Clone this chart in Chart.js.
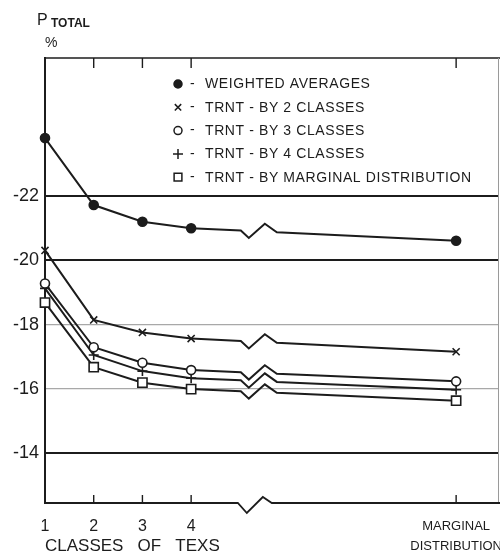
<!DOCTYPE html>
<html>
<head>
<meta charset="utf-8">
<title>P total by classes of texs</title>
<script src="https://cdn.jsdelivr.net/npm/chart.js@4.4.1/dist/chart.umd.min.js"></script>
<style>
  html, body { margin: 0; padding: 0; background: #fff; }
</style>
</head>
<body>
<canvas id="ptotalChart" width="500" height="559"></canvas>
<script>
const INK = '#1c1c1c';
const FONT = '"Liberation Sans", Arial, sans-serif';

// x positions: classes 1-4, then the marginal distribution after the axis break
const classPositions = [1, 2, 3, 4, 9.44];
const classLabels = ['1', '2', '3', '4', ['MARGINAL', 'DISTRIBUTION']];
const yTickValues = [14, 16, 18, 20, 22];

const weightedAverages = [23.8, 21.72, 21.2, 21.0, 20.61];
const trntBy2 = [20.31, 18.15, 17.76, 17.57, 17.16];
const trntBy3 = [19.28, 17.3, 16.82, 16.59, 16.24];
const trntBy4 = [19.13, 17.06, 16.56, 16.34, 15.98];
const trntByMarginal = [18.69, 16.68, 16.2, 16.0, 15.64];

const seriesLabels = [
  'WEIGHTED AVERAGES',
  'TRNT - BY 2 CLASSES',
  'TRNT - BY 3 CLASSES',
  'TRNT - BY 4 CLASSES',
  'TRNT - BY MARGINAL DISTRIBUTION',
];

// where the break in the x axis starts (x units)
const BREAK_X = 5.02;
// break symbol, px offsets from its start point
const LINE_BREAK = [[0, 0], [8, 7], [24, -8], [36, 0]];
const AXIS_BREAK = [[0, 0], [9, 10], [25, -6], [34, 0]];

const markers = [
  { pointStyle: 'circle', radius: 4.5, fill: INK, legendRadius: 4 },
  { pointStyle: 'crossRot', radius: 5, fill: '#fff', legendRadius: 4.5 },
  { pointStyle: 'circle', radius: 4.5, fill: '#fff', legendRadius: 4 },
  { pointStyle: 'cross', radius: 5, fill: '#fff', legendRadius: 5 },
  { pointStyle: 'rect', radius: 6.5, fill: '#fff', legendRadius: 5.5 },
];

const buildDataset = (values, i) => ({
  label: seriesLabels[i],
  data: values.map((v, j) => ({ x: classPositions[j], y: v })),
  borderColor: INK,
  borderWidth: 2,
  tension: 0,
  clip: false,
  pointStyle: markers[i].pointStyle,
  pointRadius: markers[i].radius,
  pointBackgroundColor: markers[i].fill,
  pointBorderColor: INK,
  pointBorderWidth: 1.6,
  // the segment across the break is drawn by brokenLines
  segment: {
    borderColor: c => (c.p0DataIndex === 3 ? 'rgba(0,0,0,0)' : undefined),
  },
});

const drawBroken = (ctx, from, to, bx, shape) => {
  const yAt = x => from.y + ((to.y - from.y) * (x - from.x)) / (to.x - from.x);
  ctx.beginPath();
  ctx.moveTo(from.x, from.y);
  shape.forEach(([dx, dy]) => ctx.lineTo(bx + dx, yAt(bx + dx) + dy));
  ctx.lineTo(to.x, to.y);
  ctx.stroke();
};

const brokenLines = {
  id: 'brokenLines',
  beforeDatasetsDraw(chart) {
    const { ctx } = chart;
    const bx = chart.scales.x.getPixelForValue(BREAK_X);
    ctx.save();
    ctx.lineJoin = 'miter';
    chart.data.datasets.forEach((ds, i) => {
      const pts = chart.getDatasetMeta(i).data;
      ctx.strokeStyle = ds.borderColor;
      ctx.lineWidth = ds.borderWidth;
      drawBroken(ctx, pts[3], pts[4], bx, LINE_BREAK);
    });
    ctx.restore();
  },
};

const frame = {
  id: 'frame',
  afterDraw(chart) {
    const { ctx, chartArea: { left, right, top, bottom } } = chart;
    const xs = chart.scales.x;
    ctx.save();
    ctx.strokeStyle = INK;

    // top and right edges
    ctx.lineWidth = 1.6;
    ctx.beginPath();
    ctx.moveTo(left, top);
    ctx.lineTo(right + 1, top);
    ctx.stroke();
    ctx.strokeStyle = '#9a9a9a';
    ctx.lineWidth = 1;
    ctx.beginPath();
    ctx.moveTo(right - 0.5, top);
    ctx.lineTo(right - 0.5, bottom);
    ctx.stroke();

    // bottom axis with its break
    ctx.strokeStyle = INK;
    ctx.lineWidth = 1.8;
    drawBroken(ctx, { x: left, y: bottom }, { x: right + 1, y: bottom },
      xs.getPixelForValue(BREAK_X) - 3, AXIS_BREAK);

    // inward ticks on top and bottom edges
    ctx.lineWidth = 1.4;
    classPositions.slice(1).forEach(v => {
      const x = xs.getPixelForValue(v);
      ctx.beginPath();
      ctx.moveTo(x, top);
      ctx.lineTo(x, top + 10);
      ctx.moveTo(x, bottom);
      ctx.lineTo(x, bottom - 8);
      ctx.stroke();
    });

    // legend
    const lx = left + 133;
    let ly = top + 26;
    ctx.font = `14px ${FONT}`;
    ctx.textBaseline = 'middle';
    ctx.textAlign = 'left';
    ctx.letterSpacing = '0.6px';
    chart.data.datasets.forEach((ds, i) => {
      ctx.fillStyle = markers[i].fill;
      ctx.strokeStyle = INK;
      ctx.lineWidth = 1.5;
      Chart.helpers.drawPoint(ctx, {
        pointStyle: markers[i].pointStyle,
        radius: markers[i].legendRadius,
        rotation: 0,
        borderWidth: 1.5,
      }, lx, ly);
      ctx.fillStyle = INK;
      ctx.fillText('-', lx + 12, ly);
      ctx.fillText(ds.label, lx + 27, ly + 0.5);
      ly += 23.3;
    });

    // y axis caption
    ctx.letterSpacing = '0px';
    ctx.textBaseline = 'alphabetic';
    ctx.font = `16px ${FONT}`;
    ctx.fillText('P', 37, 25);
    ctx.font = `bold 12px ${FONT}`;
    ctx.fillText('TOTAL', 51, 27);
    ctx.font = `14px ${FONT}`;
    ctx.fillText('%', 45, 47);
    ctx.restore();
  },
};

const ctx = document.getElementById('ptotalChart').getContext('2d');

new Chart(ctx, {
  type: 'line',
  data: {
    datasets: [weightedAverages, trntBy2, trntBy3, trntBy4, trntByMarginal].map(buildDataset),
  },
  options: {
    responsive: false,
    animation: false,
    layout: { autoPadding: false, padding: { top: 58, right: 1, left: 0, bottom: 0 } },
    plugins: {
      legend: { display: false },
      tooltip: { enabled: false },
    },
    scales: {
      x: {
        type: 'linear',
        min: 1,
        max: 10.32,
        afterBuildTicks: s => {
          s.ticks = classPositions.map(v => ({ value: v }));
        },
        afterFit: s => {
          s.height = 56;
          s.paddingLeft = 0;
          s.paddingRight = 0;
        },
        border: { display: false },
        grid: { display: false, drawTicks: false },
        ticks: {
          autoSkip: false,
          maxRotation: 0,
          padding: 14,
          color: INK,
          font: c => ({
            family: FONT,
            size: c.index === 4 ? 13 : 16,
            lineHeight: c.index === 4 ? 1.5 : 1.2,
          }),
          callback: (v, i) => classLabels[i],
        },
        title: {
          display: true,
          text: 'CLASSES   OF   TEXS',
          align: 'start',
          color: INK,
          font: { family: FONT, size: 17 },
          padding: { top: 0, bottom: 2 },
        },
      },
      y: {
        type: 'linear',
        min: 12.46,
        max: 26.29,
        afterBuildTicks: s => {
          s.ticks = yTickValues.map(v => ({ value: v }));
        },
        afterFit: s => {
          s.width = 45;
          s.paddingTop = 0;
          s.paddingBottom = 0;
        },
        border: { display: true, color: INK, width: 2 },
        grid: {
          drawTicks: false,
          color: c => (c.tick && (c.tick.value === 16 || c.tick.value === 18) ? '#a8a8a8' : INK),
          lineWidth: c => (c.tick && (c.tick.value === 16 || c.tick.value === 18) ? 1.3 : 2),
        },
        ticks: {
          padding: 6,
          color: INK,
          font: { family: FONT, size: 18 },
          callback: v => '-' + v,
        },
      },
    },
  },
  plugins: [brokenLines, frame],
});
</script>
</body>
</html>
